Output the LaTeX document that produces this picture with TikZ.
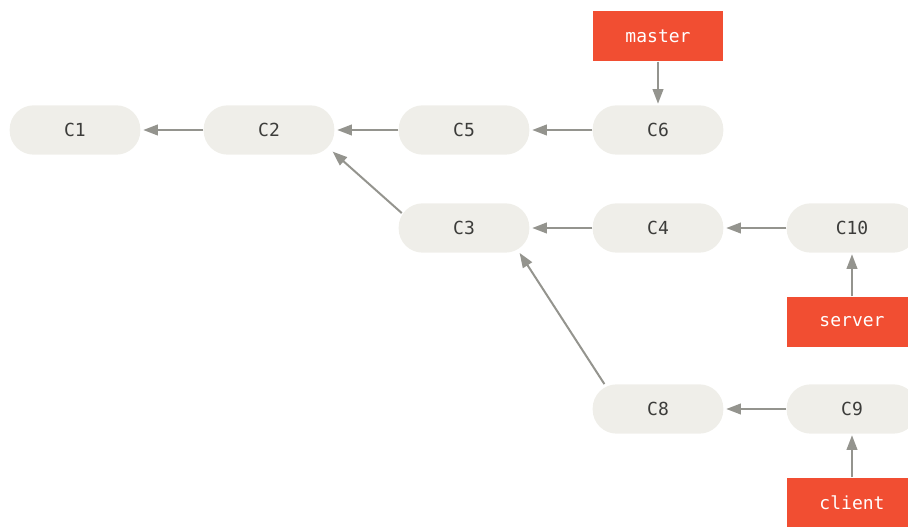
\documentclass[tikz,border=0pt]{standalone}
\usepackage{fontspec}
\setmonofont{DejaVu Sans Mono}
\definecolor{CommitFill}{RGB}{239,238,233}
\definecolor{BranchRed}{RGB}{241,78,50}
\definecolor{LinkGray}{RGB}{148,148,142}
\definecolor{LabelGray}{RGB}{60,60,58}
\usetikzlibrary{arrows.meta}

\begin{document}
\begin{tikzpicture}[x=0.75pt, y=-0.75pt,
    commit/.style={rectangle, rounded corners=18pt, fill=CommitFill,
      minimum width=98pt, minimum height=37pt, inner sep=0pt,
      font=\ttfamily\fontsize{13.5pt}{16pt}\selectfont, text=LabelGray},
    branch/.style={rectangle, fill=BranchRed,
      minimum width=98pt, minimum height=38pt, inner sep=0pt,
      font=\ttfamily\fontsize{13.5pt}{16pt}\selectfont, text=white},
    link/.style={draw=LinkGray, line width=1.5pt,
      -{Triangle[length=11pt, width=8pt]}, shorten >=2pt}]
  \useasboundingbox (0,0) rectangle (908,527);

  % commits, row by row
  \node[commit] (c1)  at (75, 130)  {C1};
  \node[commit] (c2)  at (269, 130) {C2};
  \node[commit] (c5)  at (464, 130) {C5};
  \node[commit] (c6)  at (658, 130) {C6};
  \node[commit] (c3)  at (464, 228) {C3};
  \node[commit] (c4)  at (658, 228) {C4};
  \node[commit] (c10) at (852, 228) {C10};
  \node[commit] (c8)  at (658, 409) {C8};
  \node[commit] (c9)  at (852, 409) {C9};

  % branch pointers
  \node[branch] (master) at (658, 36)  {master};
  \node[branch] (server) at (852, 322) {server};
  \node[branch] (client) at (852, 503) {client};

  % parent links
  \draw[link] (c2.west) -- (c1.east);
  \draw[link] (c5.west) -- (c2.east);
  \draw[link] (c6.west) -- (c5.east);
  \draw[link] (c4.west) -- (c3.east);
  \draw[link] (c10.west) -- (c4.east);
  \draw[link] (c9.west) -- (c8.east);
  \draw[link, shorten >=0pt] ([xshift=2.5pt, yshift=-7.5pt]c3.north west)
        -- ([xshift=-1.5pt, yshift=2.5pt]c2.south east);
  \draw[link, shorten >=0pt] ([xshift=9pt]c8.north west)
        -- ([xshift=-7.5pt]c3.south east);

  % branch links
  \draw[link, shorten >=1pt] (master.south) -- (c6.north);
  \draw[link, shorten >=1pt] (server.north) -- (c10.south);
  \draw[link, shorten >=1pt] (client.north) -- (c9.south);
\end{tikzpicture}
\end{document}
